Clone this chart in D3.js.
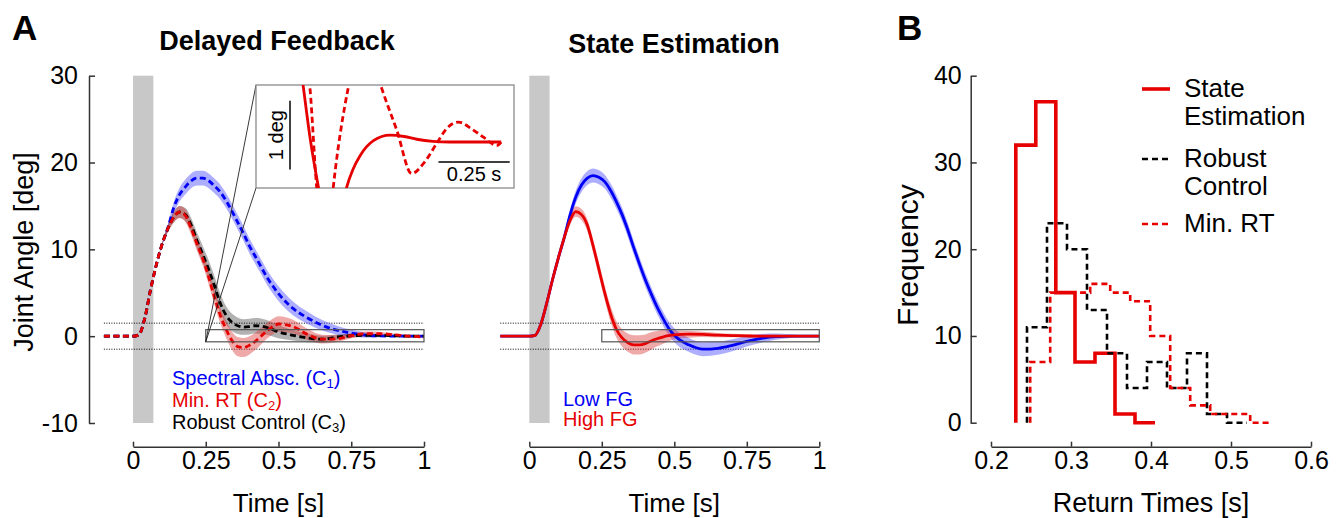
<!DOCTYPE html>
<html>
<head>
<meta charset="utf-8">
<script src="https://cdn.jsdelivr.net/npm/d3@7"></script>
<style>
  body { margin: 0; background: #fff; }
  svg { display: block; }
</style>
</head>
<body>
<div id="chart"></div>
<script>
// shared time grid for the joint angle responses [s]
var time = [-0.1, -0.05, 0, 0.02, 0.04, 0.06, 0.08, 0.1, 0.12, 0.14, 0.16, 0.18, 0.2, 0.22, 0.24, 0.26, 0.28, 0.3,
  0.32, 0.34, 0.36, 0.38, 0.4, 0.42, 0.44, 0.46, 0.48, 0.5, 0.55, 0.6, 0.65, 0.7, 0.75, 0.8, 0.85, 0.9, 0.95, 1.0];

// delayed feedback panel [deg]
var spectralAbsc = [0, 0, 0, 0.15, 2.0, 5.3, 8.2, 10.6, 12.5, 14.8, 16.3, 17.2, 17.9, 18.2, 18.2, 17.9, 17.3, 16.6,
  15.6, 14.4, 13.1, 11.8, 10.4, 9.2, 8.0, 6.8, 5.8, 4.9, 3.2, 2.1, 1.25, 0.7, 0.35, 0.12, 0.03, 0, 0, 0];
var minRT = [0, 0, 0, 0.15, 2.0, 5.3, 8.2, 10.6, 12.4, 13.7, 14.3, 13.9, 12.4, 10.6, 8.9, 6.8, 4.5, 2.4,
  0.8, -0.5, -1.2, -1.3, -1.05, -0.6, 0, 0.6, 1.1, 1.4, 1.1, 0.2, -0.35, -0.3, 0.05, 0.28, 0.28, 0.15, 0, -0.08];
var robust = [0, 0, 0, 0.15, 2.0, 5.3, 8.2, 10.6, 12.4, 13.7, 14.3, 14.0, 12.8, 11.0, 9.4, 7.7, 5.8, 3.8,
  2.4, 1.6, 1.2, 1.05, 1.1, 1.2, 1.15, 1.0, 0.75, 0.5, 0.1, -0.2, -0.35, -0.1, 0.05, 0.1, 0.1, 0.05, 0, 0];
// half widths of the shaded bands
var spectralBand = [0, 0, 0, 0, 0, 0, 0, 0.15, 0.4, 0.65, 0.8, 0.85, 0.85, 0.85, 0.85, 0.85, 0.85, 0.85,
  0.85, 0.85, 0.85, 0.85, 0.85, 0.85, 0.85, 0.85, 0.85, 0.85, 0.8, 0.7, 0.6, 0.5, 0.4, 0.3, 0.15, 0, 0, 0];
var minRTBand = [0, 0, 0, 0, 0, 0, 0, 0.15, 0.4, 0.6, 0.7, 0.75, 0.75, 0.8, 0.8, 0.85, 0.9, 0.95,
  1.0, 1.05, 1.1, 1.1, 1.05, 1.0, 0.95, 0.9, 0.9, 0.9, 0.8, 0.65, 0.5, 0.4, 0.3, 0.25, 0.2, 0.15, 0.15, 0.15];
var robustBand = [0, 0, 0, 0, 0, 0, 0, 0.15, 0.4, 0.6, 0.7, 0.75, 0.8, 0.9, 1.0, 1.05, 1.1, 1.1,
  1.05, 1.0, 0.95, 0.9, 0.9, 0.9, 0.9, 0.85, 0.8, 0.75, 0.6, 0.5, 0.4, 0.3, 0.2, 0.15, 0.1, 0.05, 0, 0];

// state estimation panel [deg]
var lowFG = [0, 0, 0, 0.1, 1.4, 3.8, 6.5, 9.0, 11.3, 13.9, 16.0, 17.4, 18.2, 18.5, 18.3, 17.8, 16.8, 15.5,
  14.0, 12.2, 10.2, 8.3, 6.5, 4.9, 3.4, 2.1, 0.95, 0.1, -1.0, -1.5, -1.4, -1.05, -0.6, -0.25, -0.05, 0, 0, 0];
var highFG = [0, 0, 0, 0.1, 1.4, 3.8, 6.5, 9.0, 11.3, 13.3, 14.35, 14.0, 12.8, 10.4, 7.7, 5.0, 2.6, 0.8,
  -0.2, -0.75, -1.0, -1.0, -0.85, -0.55, -0.3, -0.1, 0.05, 0.15, 0.23, 0.2, 0.12, 0.07, 0.03, 0, 0, 0, 0, 0];
var lowFGBand = [0, 0, 0, 0, 0, 0, 0, 0.15, 0.4, 0.6, 0.75, 0.8, 0.8, 0.8, 0.8, 0.8, 0.8, 0.8,
  0.8, 0.8, 0.8, 0.8, 0.8, 0.8, 0.8, 0.8, 0.8, 0.8, 0.8, 0.8, 0.75, 0.7, 0.6, 0.5, 0.35, 0.2, 0.1, 0.05];
var highFGBand = [0, 0, 0, 0, 0, 0, 0, 0.15, 0.4, 0.55, 0.6, 0.65, 0.7, 0.75, 0.8, 0.85, 0.9, 0.95,
  1.0, 1.05, 1.1, 1.1, 1.05, 1.0, 0.9, 0.8, 0.65, 0.5, 0.4, 0.3, 0.25, 0.2, 0.2, 0.15, 0.15, 0.1, 0.1, 0.1];

// zoomed inset (red curves only)
var insetSolidTime = [0.28, 0.306, 0.33, 0.359, 0.38, 0.41, 0.44, 0.458, 0.48, 0.505, 0.552, 0.61, 0.66, 0.704, 0.76, 0.82, 0.9, 1.0];
var insetSolidAngle = [1.6, 0.8, 0.05, -0.66, -1.1, -1.3, -1.0, -0.66, -0.4, -0.2, 0.02, 0.1, 0.08, 0.04, 0.01, 0, 0, 0];
var insetDashTime = [0.3, 0.329, 0.353, 0.37, 0.382, 0.395, 0.411, 0.464, 0.52, 0.581, 0.634, 0.686, 0.73, 0.774, 0.81, 0.85, 0.9, 0.938, 0.985, 1.0];
var insetDashAngle = [1.6, 0.8, -0.67, -1.3, -1.45, -1.3, -0.66, 0.8, 1.6, 0.78, 0.17, -0.46, -0.3, -0.02, 0.2, 0.29, 0.18, 0.07, -0.05, 0];

// return time histograms (bin edges [s] and counts)
var stateEdges = [0.231, 0.256, 0.281, 0.305, 0.33, 0.355, 0.38, 0.405];
var stateCounts = [32, 37, 15, 7, 8, 1, 0];
var robustEdges = [0.245, 0.27, 0.295, 0.32, 0.345, 0.37, 0.395, 0.42, 0.445, 0.47, 0.495, 0.52];
var robustCounts = [11, 23, 20, 13, 8, 4, 7, 4, 8, 1, 0];
var minRTEdges = [0.249, 0.274, 0.299, 0.324, 0.349, 0.374, 0.399, 0.424, 0.449, 0.474, 0.499, 0.524, 0.549];
var minRTCounts = [7, 15, 15, 16, 15, 14, 10, 4, 2, 1, 1, 0];

var timeTicks = [0, 0.25, 0.5, 0.75, 1];
var angleTicks = [-10, 0, 10, 20, 30];
var freqTicks = [0, 10, 20, 30, 40];
var rtTicks = [0.2, 0.3, 0.4, 0.5, 0.6];

var font = '"Liberation Sans", Arial, Helvetica, sans-serif';
var red = "#e60000", blue = "#0000f5";
var blueBand = "rgba(85,85,255,0.48)", redBand = "rgba(220,50,50,0.42)", greyBand = "rgba(0,0,0,0.3)";

var svg = d3.select("#chart").append("svg")
  .attr("width", 1342).attr("height", 518)
  .style("font-family", font);

var yAngle = d3.scaleLinear().domain([-10, 30]).range([423, 75.7]);
var xDelayed = d3.scaleLinear().domain([0, 1]).range([133, 424]);
var xState = d3.scaleLinear().domain([0, 1]).range([529.3, 819.3]);
var axisY = 446.7;

function styleAxis(g, size) {
  g.attr("font-size", size).attr("font-family", font);
  g.selectAll("path, line").attr("stroke", "#333").attr("stroke-width", 1.5);
  g.selectAll("text").attr("fill", "#000");
}

function drawBand(x, vals, half, color) {
  var area = d3.area()
    .x(function (d, i) { return x(time[i]); })
    .y0(function (d, i) { return yAngle(d - half[i]); })
    .y1(function (d, i) { return yAngle(d + half[i]); })
    .curve(d3.curveMonotoneX);
  svg.append("path").attr("d", area(vals)).attr("fill", color).attr("stroke", "none");
}

function drawCurve(x, vals, color, dash) {
  var line = d3.line()
    .x(function (d, i) { return x(time[i]); })
    .y(function (d) { return yAngle(d); })
    .curve(d3.curveMonotoneX);
  svg.append("path").attr("d", line(vals))
    .attr("fill", "none").attr("stroke", color).attr("stroke-width", 2.8)
    .attr("stroke-dasharray", dash ? "6,3.5" : null);
}

// stimulus bar, threshold lines, time axis
function panelFrame(x) {
  svg.append("rect")
    .attr("x", x(0)).attr("width", x(0.07) - x(0))
    .attr("y", yAngle(30)).attr("height", yAngle(-10) - yAngle(30))
    .attr("fill", "#c8c8c8");
  [-1.5, 1.5].forEach(function (v) {
    svg.append("line")
      .attr("x1", x(-0.1)).attr("x2", x(1))
      .attr("y1", yAngle(v)).attr("y2", yAngle(v))
      .attr("stroke", "#000").attr("stroke-width", 1).attr("stroke-dasharray", "1,1.5");
  });
  var ax = svg.append("g").attr("transform", "translate(0," + axisY + ")")
    .call(d3.axisBottom(x).tickValues(timeTicks).tickFormat(function (d) { return String(d); })
      .tickSize(-5).tickSizeOuter(0).tickPadding(5));
  styleAxis(ax, 25);
  svg.append("text").attr("x", (x(0) + x(1)) / 2).attr("y", 512)
    .attr("text-anchor", "middle").attr("font-size", 26).text("Time [s]");
}

function zoomBox(x) {
  svg.append("rect")
    .attr("x", x(0.25)).attr("width", x(1) - x(0.25))
    .attr("y", yAngle(0.75)).attr("height", yAngle(-0.65) - yAngle(0.75))
    .attr("fill", "none").attr("stroke", "#555").attr("stroke-width", 1.2);
}

// ---------- panel A, delayed feedback ----------
panelFrame(xDelayed);
drawBand(xDelayed, spectralAbsc, spectralBand, blueBand);
drawBand(xDelayed, robust, robustBand, greyBand);
drawBand(xDelayed, minRT, minRTBand, redBand);
drawCurve(xDelayed, spectralAbsc, blue, true);
drawCurve(xDelayed, robust, "#000", true);
drawCurve(xDelayed, minRT, red, true);
zoomBox(xDelayed);

var yAx = svg.append("g").attr("transform", "translate(89,0)")
  .call(d3.axisLeft(yAngle).tickValues(angleTicks).tickFormat(function (d) { return String(d); })
    .tickSize(-6).tickSizeOuter(0).tickPadding(11));
styleAxis(yAx, 25);
svg.append("text").attr("transform", "translate(33,252) rotate(-90)")
  .attr("text-anchor", "middle").attr("font-size", 27).text("Joint Angle [deg]");

// inset
var inset = { x: 256, y: 85, w: 258, h: 103 };
var insetX = d3.scaleLinear().domain([0.14, 1.045]).range([inset.x, inset.x + inset.w]);
var insetY = d3.scaleLinear().domain([-0.67, 0.83]).range([inset.y + inset.h, inset.y]);

[inset.y, inset.y + inset.h].forEach(function (yy) {
  svg.append("line")
    .attr("x1", xDelayed(0.25)).attr("y1", yAngle(-0.65))
    .attr("x2", inset.x).attr("y2", yy)
    .attr("stroke", "#222").attr("stroke-width", 0.9);
});
svg.append("rect").attr("x", inset.x).attr("y", inset.y).attr("width", inset.w).attr("height", inset.h)
  .attr("fill", "#fff").attr("stroke", "#8a8a8a").attr("stroke-width", 1.3);
svg.append("clipPath").attr("id", "insetClip").append("rect")
  .attr("x", inset.x).attr("y", inset.y).attr("width", inset.w).attr("height", inset.h);
var ig = svg.append("g").attr("clip-path", "url(#insetClip)");
var insetLine = function (ts) {
  return d3.line()
    .x(function (d, i) { return insetX(ts[i]); })
    .y(function (d) { return insetY(d); })
    .curve(d3.curveMonotoneX);
};
ig.append("path").attr("d", insetLine(insetDashTime)(insetDashAngle))
  .attr("fill", "none").attr("stroke", red).attr("stroke-width", 2.8).attr("stroke-dasharray", "6,3.5");
ig.append("path").attr("d", insetLine(insetSolidTime)(insetSolidAngle))
  .attr("fill", "none").attr("stroke", red).attr("stroke-width", 2.8);
// scale bars
svg.append("line").attr("x1", 290).attr("x2", 290).attr("y1", insetY(-0.4)).attr("y2", insetY(0.6))
  .attr("stroke", "#000").attr("stroke-width", 1.5);
svg.append("text").attr("transform", "translate(283," + insetY(0.1) + ") rotate(-90)")
  .attr("text-anchor", "middle").attr("font-size", 20).text("1 deg");
svg.append("line").attr("x1", insetX(0.78)).attr("x2", insetX(1.03)).attr("y1", insetY(-0.29)).attr("y2", insetY(-0.29))
  .attr("stroke", "#000").attr("stroke-width", 1.5);
svg.append("text").attr("x", insetX(0.905)).attr("y", 181)
  .attr("text-anchor", "middle").attr("font-size", 20).text("0.25 s");

// legend A
var legA = [
  { label: "Spectral Absc. (C", sub: "1", color: blue },
  { label: "Min. RT (C", sub: "2", color: red },
  { label: "Robust Control (C", sub: "3", color: "#000" }
];
legA.forEach(function (d, i) {
  var t = svg.append("text").attr("x", 172).attr("y", 385 + i * 22).attr("font-size", 20).attr("fill", d.color);
  t.append("tspan").text(d.label);
  t.append("tspan").attr("font-size", 13).attr("dy", 3).text(d.sub);
  t.append("tspan").attr("dy", -3).text(")");
});

svg.append("text").attr("x", 277).attr("y", 50).attr("text-anchor", "middle")
  .attr("font-size", 27).attr("font-weight", "bold").text("Delayed Feedback");

// ---------- panel A, state estimation ----------
panelFrame(xState);
drawBand(xState, lowFG, lowFGBand, blueBand);
drawBand(xState, highFG, highFGBand, redBand);
drawCurve(xState, lowFG, blue, false);
drawCurve(xState, highFG, red, false);
zoomBox(xState);

svg.append("text").attr("x", 563).attr("y", 406).attr("font-size", 20).attr("fill", blue).text("Low FG");
svg.append("text").attr("x", 563).attr("y", 426).attr("font-size", 20).attr("fill", red).text("High FG");

svg.append("text").attr("x", 674).attr("y", 53).attr("text-anchor", "middle")
  .attr("font-size", 27).attr("font-weight", "bold").text("State Estimation");

// ---------- panel B, histogram ----------
var xRT = d3.scaleLinear().domain([0.2, 0.6]).range([991, 1311]);
var yFreq = d3.scaleLinear().domain([0, 40]).range([422.7, 75.7]);

function stairs(edges, counts) {
  var pts = [[edges[0], 0]];
  counts.forEach(function (c, i) { pts.push([edges[i], c]); });
  pts.push([edges[edges.length - 1], counts[counts.length - 1]]);
  return d3.line()
    .x(function (d) { return xRT(d[0]); })
    .y(function (d) { return yFreq(d[1]); })
    .curve(d3.curveStepAfter)(pts);
}

svg.append("path").attr("d", stairs(stateEdges, stateCounts))
  .attr("fill", "none").attr("stroke", red).attr("stroke-width", 3.6);
svg.append("path").attr("d", stairs(robustEdges, robustCounts))
  .attr("fill", "none").attr("stroke", "#000").attr("stroke-width", 2.6).attr("stroke-dasharray", "6,4");
svg.append("path").attr("d", stairs(minRTEdges, minRTCounts))
  .attr("fill", "none").attr("stroke", red).attr("stroke-width", 2.6).attr("stroke-dasharray", "6,4");

var fy = svg.append("g").attr("transform", "translate(970.7,0)")
  .call(d3.axisLeft(yFreq).tickValues(freqTicks).tickSize(-6).tickSizeOuter(0).tickPadding(9));
styleAxis(fy, 25);
var fx = svg.append("g").attr("transform", "translate(0," + axisY + ")")
  .call(d3.axisBottom(xRT).tickValues(rtTicks).tickFormat(d3.format(".1f"))
    .tickSize(-5).tickSizeOuter(0).tickPadding(5));
styleAxis(fx, 25);

svg.append("text").attr("transform", "translate(918,255) rotate(-90)")
  .attr("text-anchor", "middle").attr("font-size", 30).text("Frequency");
svg.append("text").attr("x", 1151).attr("y", 512).attr("text-anchor", "middle")
  .attr("font-size", 27).text("Return Times [s]");

// legend B
var legB = [
  { lines: ["State", "Estimation"], color: red, width: 3.6, dash: null, y: 89 },
  { lines: ["Robust", "Control"], color: "#000", width: 2.6, dash: "6,4", y: 159 },
  { lines: ["Min. RT"], color: red, width: 2.6, dash: "6,4", y: 224 }
];
legB.forEach(function (d) {
  svg.append("line").attr("x1", 1142).attr("x2", 1170).attr("y1", d.y).attr("y2", d.y)
    .attr("stroke", d.color).attr("stroke-width", d.width).attr("stroke-dasharray", d.dash);
  d.lines.forEach(function (s, j) {
    svg.append("text").attr("x", 1184).attr("y", d.y + 8 + j * 28)
      .attr("font-size", 26).text(s);
  });
});

// panel letters
svg.append("text").attr("x", 12).attr("y", 40).attr("font-size", 35).attr("font-weight", "bold").text("A");
svg.append("text").attr("x", 897).attr("y", 40).attr("font-size", 35).attr("font-weight", "bold").text("B");
</script>
</body>
</html>
